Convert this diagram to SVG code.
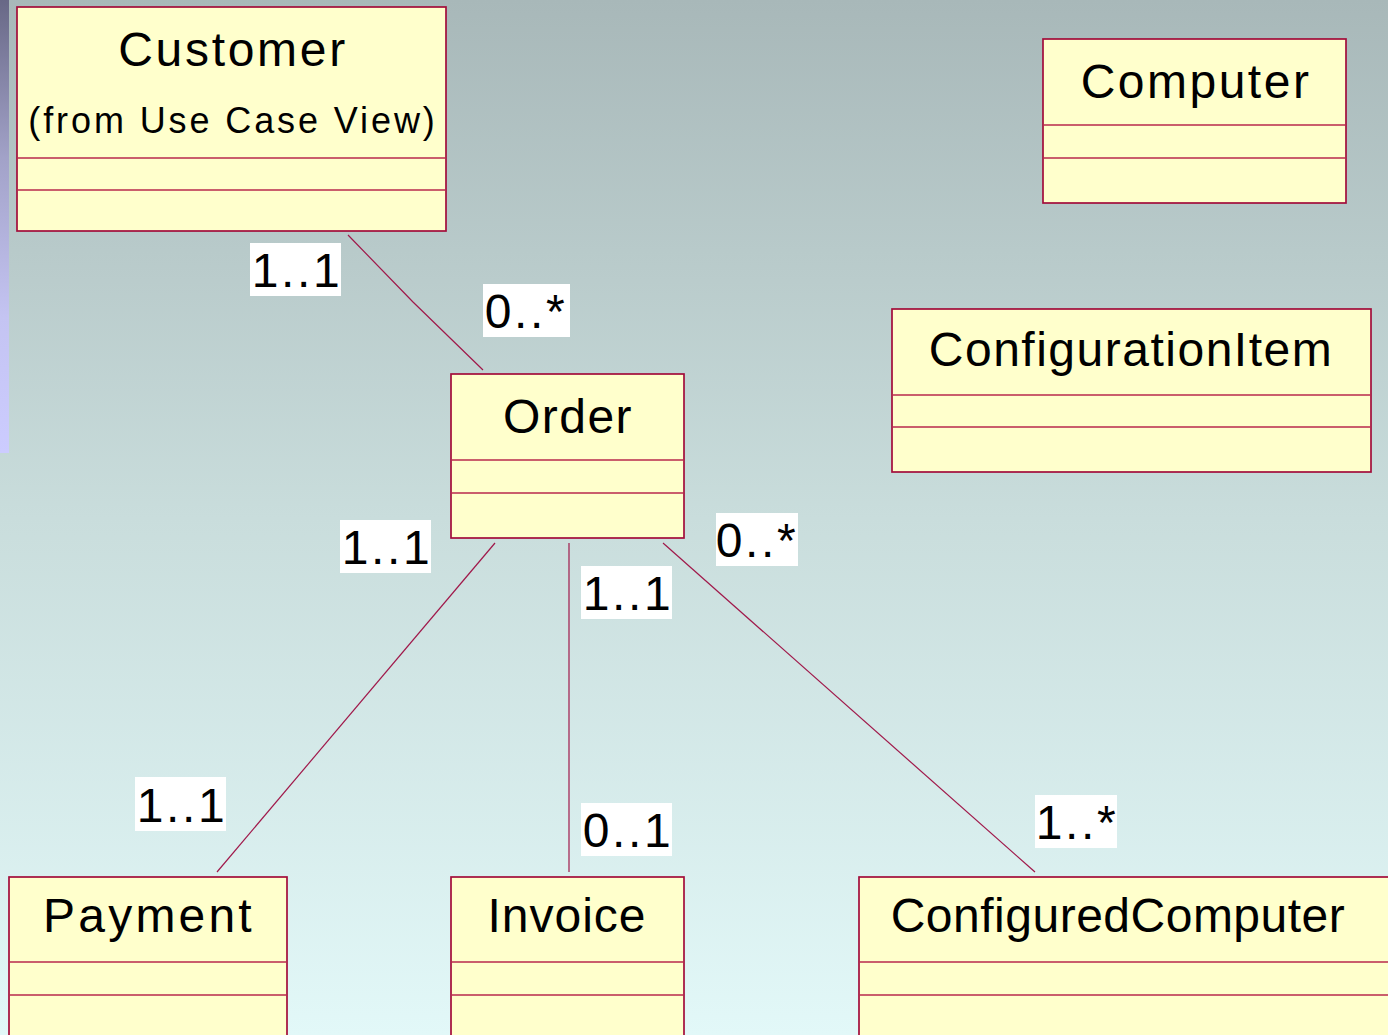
<svg xmlns="http://www.w3.org/2000/svg" width="1388" height="1035" viewBox="0 0 1388 1035">
  <defs>
    <linearGradient id="bg" x1="0" y1="0" x2="0" y2="1">
      <stop offset="0" stop-color="#a8b8b9"/>
      <stop offset="0.5" stop-color="#c9dddc"/>
      <stop offset="1" stop-color="#e2f8f8"/>
    </linearGradient>
    <linearGradient id="strip" x1="0" y1="0" x2="0" y2="1">
      <stop offset="0" stop-color="#686886"/>
      <stop offset="0.35" stop-color="#a2a2c8"/>
      <stop offset="0.7" stop-color="#c4c4f2"/>
      <stop offset="1" stop-color="#ccccff"/>
    </linearGradient>
    <style>
      .box { fill: #ffffcc; stroke: #a30c3a; stroke-width: 1.7; }
      .div { stroke: #b8284c; stroke-width: 1.3; }
      .name { font-family: "Liberation Sans", Arial, sans-serif; font-size: 48px; fill: #000; text-anchor: middle; letter-spacing: 1.5px; }
      .sub { font-family: "Liberation Sans", Arial, sans-serif; font-size: 36px; fill: #000; text-anchor: middle; letter-spacing: 2.9px; }
      .conn { fill: none; stroke: #a0184a; stroke-width: 1.2; }
      .lblbg { fill: #ffffff; }
      .lbl { font-family: "Liberation Sans", Arial, sans-serif; font-size: 48px; fill: #000; text-anchor: middle; letter-spacing: 2.6px; }
    </style>
  </defs>

  <!-- backdrop -->
  <rect x="0" y="0" width="1388" height="1035" fill="url(#bg)"/>
  <rect x="0" y="0" width="9" height="453" fill="url(#strip)"/>

  <!-- associations -->
  <g id="connectors">
    <polyline class="conn" points="348,235 413,302 483,370"/>
    <line class="conn" x1="495" y1="543" x2="217" y2="872"/>
    <line class="conn" x1="569" y1="543" x2="569" y2="872"/>
    <line class="conn" x1="663" y1="543" x2="1035" y2="872"/>
  </g>

  <!-- classes -->
  <g id="customer">
    <rect class="box" x="17" y="7" width="429" height="224"/>
    <line class="div" x1="17" y1="158" x2="446" y2="158"/>
    <line class="div" x1="17" y1="190" x2="446" y2="190"/>
    <text class="name" x="233" y="66" style="letter-spacing:2.7px">Customer</text>
    <text class="sub" x="233" y="133">(from Use Case View)</text>
  </g>

  <g id="computer">
    <rect class="box" x="1043" y="39" width="303" height="164"/>
    <line class="div" x1="1043" y1="125" x2="1346" y2="125"/>
    <line class="div" x1="1043" y1="158" x2="1346" y2="158"/>
    <text class="name" x="1196" y="98" style="letter-spacing:2.5px">Computer</text>
  </g>

  <g id="configuration-item">
    <rect class="box" x="892" y="309" width="479" height="163"/>
    <line class="div" x1="892" y1="395" x2="1371" y2="395"/>
    <line class="div" x1="892" y1="427" x2="1371" y2="427"/>
    <text class="name" x="1131" y="366">ConfigurationItem</text>
  </g>

  <g id="order">
    <rect class="box" x="451" y="374" width="233" height="164"/>
    <line class="div" x1="451" y1="460" x2="684" y2="460"/>
    <line class="div" x1="451" y1="493" x2="684" y2="493"/>
    <text class="name" x="568" y="433">Order</text>
  </g>

  <g id="payment">
    <rect class="box" x="9" y="877" width="278" height="170"/>
    <line class="div" x1="9" y1="962" x2="287" y2="962"/>
    <line class="div" x1="9" y1="995" x2="287" y2="995"/>
    <text class="name" x="149" y="932" style="letter-spacing:3.2px">Payment</text>
  </g>

  <g id="invoice">
    <rect class="box" x="451" y="877" width="233" height="170"/>
    <line class="div" x1="451" y1="962" x2="684" y2="962"/>
    <line class="div" x1="451" y1="995" x2="684" y2="995"/>
    <text class="name" x="567" y="932" style="letter-spacing:1px">Invoice</text>
  </g>

  <g id="configured-computer">
    <rect class="box" x="859" y="877" width="540" height="170"/>
    <line class="div" x1="859" y1="962" x2="1399" y2="962"/>
    <line class="div" x1="859" y1="995" x2="1399" y2="995"/>
    <text class="name" x="1118" y="932" style="letter-spacing:0.5px">ConfiguredComputer</text>
  </g>

  <!-- multiplicities -->
  <g id="multiplicities">
    <rect class="lblbg" x="250" y="243" width="91" height="53"/>
    <text class="lbl" x="297" y="287">1..1</text>
    <rect class="lblbg" x="483" y="284" width="87" height="53"/>
    <text class="lbl" x="526" y="328">0..*</text>
    <rect class="lblbg" x="340" y="520" width="91" height="53"/>
    <text class="lbl" x="387" y="564">1..1</text>
    <rect class="lblbg" x="581" y="566" width="91" height="53"/>
    <text class="lbl" x="628" y="610">1..1</text>
    <rect class="lblbg" x="716" y="513" width="82" height="53"/>
    <text class="lbl" x="757" y="557">0..*</text>
    <rect class="lblbg" x="135" y="777" width="91" height="54"/>
    <text class="lbl" x="182" y="822">1..1</text>
    <rect class="lblbg" x="581" y="803" width="91" height="53"/>
    <text class="lbl" x="628" y="847">0..1</text>
    <rect class="lblbg" x="1035" y="795" width="82" height="53"/>
    <text class="lbl" x="1077" y="839">1..*</text>
  </g>
</svg>
